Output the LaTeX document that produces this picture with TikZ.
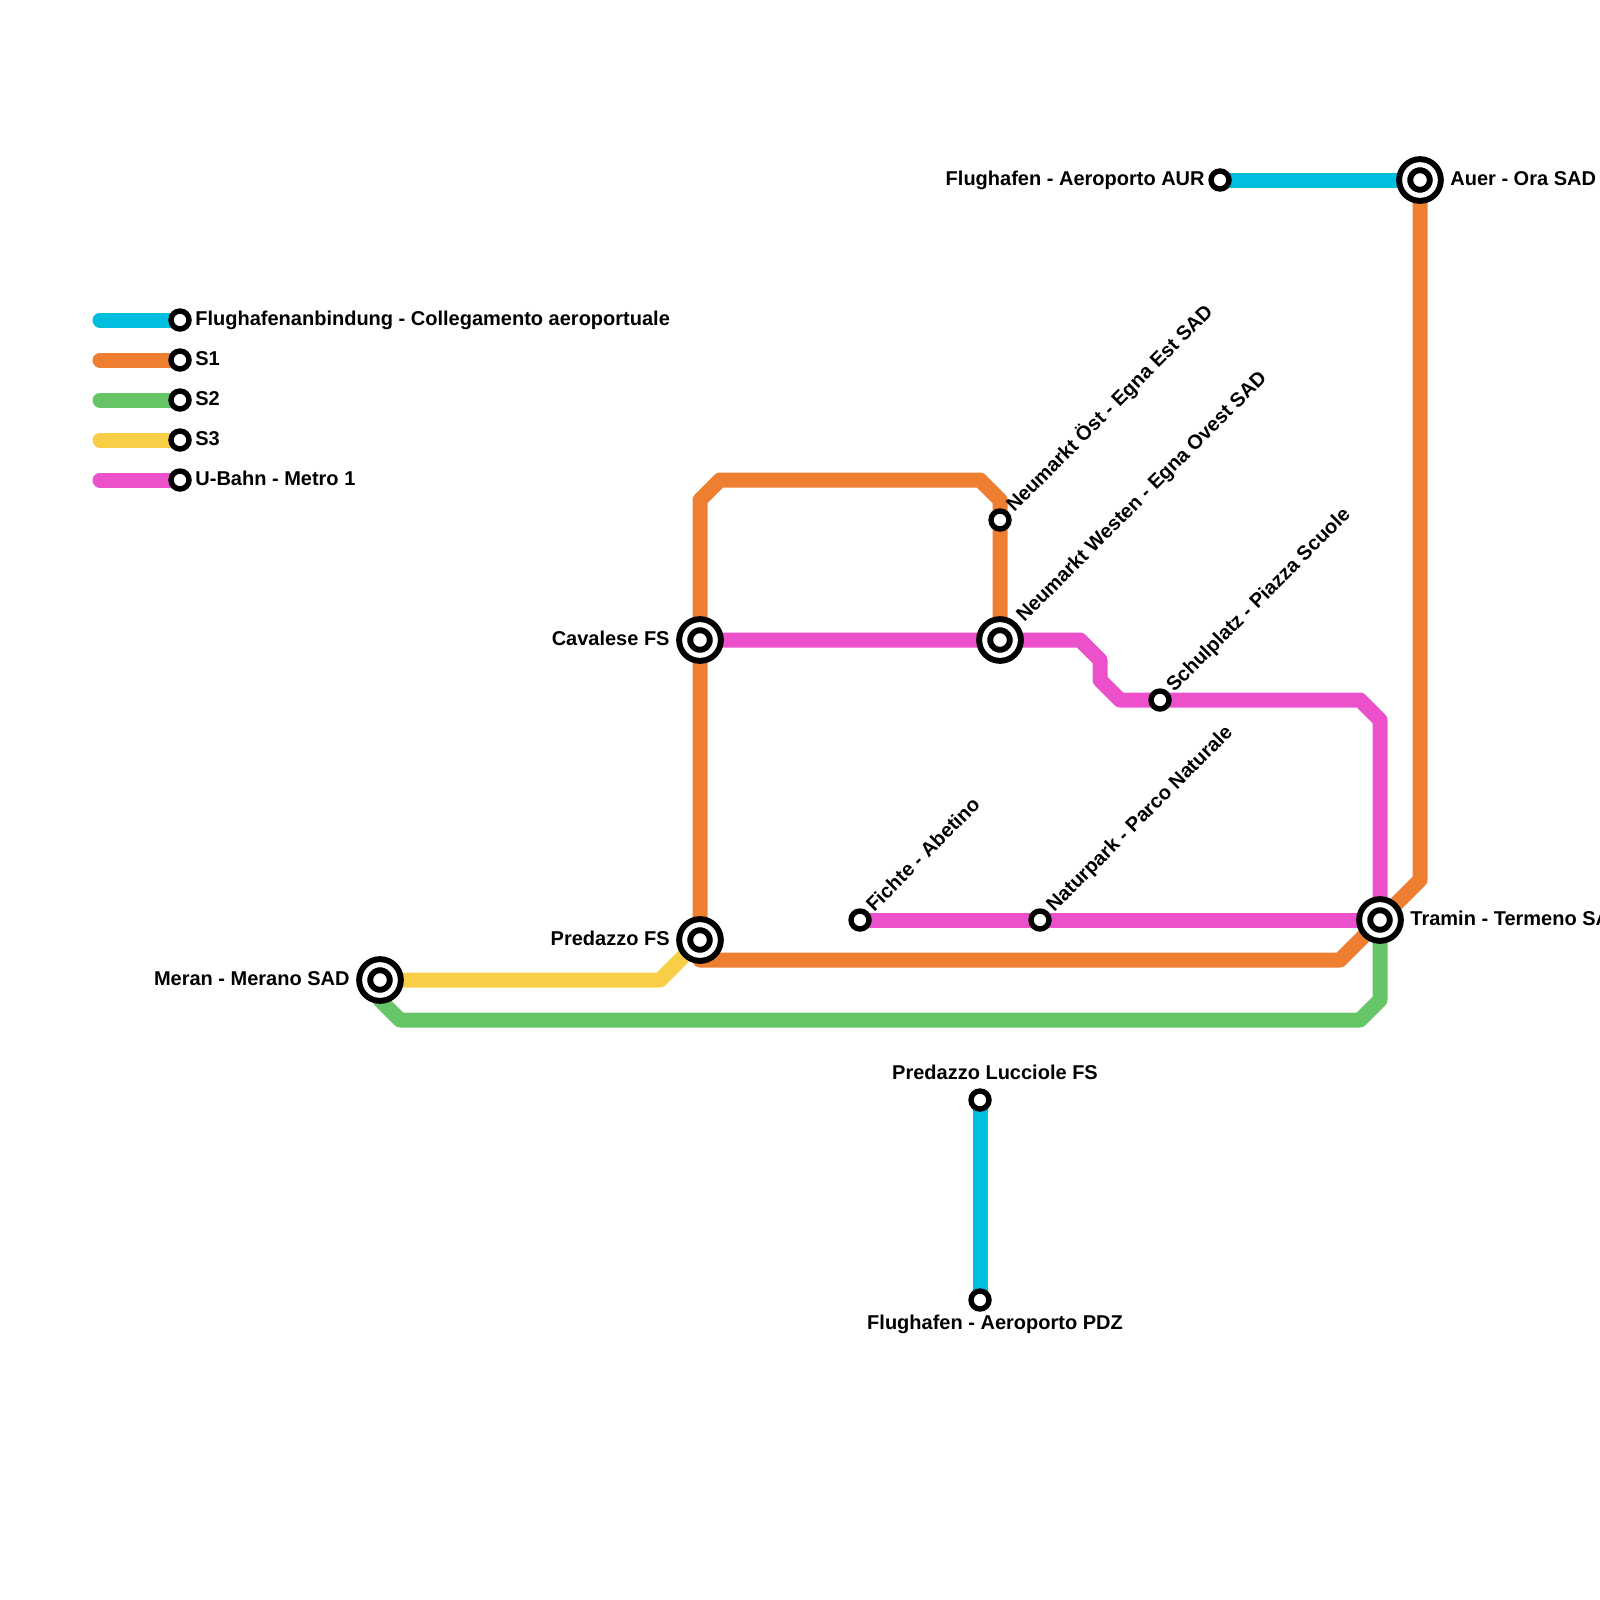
\documentclass[tikz,border=0pt]{standalone}
\usepackage{fontspec}
\setmainfont{Liberation Sans}
\usetikzlibrary{backgrounds}
\definecolor{airline}{RGB}{0,190,222}
\definecolor{sone}{RGB}{238,126,48}
\definecolor{stwo}{RGB}{102,197,102}
\definecolor{sthree}{RGB}{249,206,71}
\definecolor{metro}{RGB}{236,80,203}
\begin{document}
\begin{tikzpicture}[
  x=0.5pt, y=-0.5pt,
  font=\fontsize{10}{12}\selectfont\bfseries,
  stop/.style={draw, circle, fill=white, line width=2.7pt, minimum size=9pt, inner sep=0pt, outer sep=0pt},
  hub/.style={draw, circle, fill=white, line width=3pt, double=white, double distance=2.5pt, minimum size=15.3pt, inner sep=0pt, outer sep=0pt},
  rail/.style={line width=7.5pt, line cap=round, line join=round},
  lab/.style={inner sep=0pt},
  tilt/.style={inner sep=0pt, anchor=base west, rotate=45}
]
\useasboundingbox (0,0) rectangle (1600,1600);

% legend
\foreach \col/\ypos/\name/\txt in {airline/320/la/Flughafenanbindung - Collegamento aeroportuale,
    sone/360/lb/S1, stwo/400/lc/S2, sthree/440/ld/S3, metro/480/le/U-Bahn - Metro 1} {
  \node[stop] (\name) at (180,\ypos) {};
  \coordinate (\name s) at (100,\ypos);
  \node[lab, anchor=base west] (\name t) at (195,\ypos+5.5) {\txt};
  \begin{scope}[on background layer]
    \draw[rail, \col] (\name s) -- (\name.center);
  \end{scope}
}

% stations
\node[hub]  (auer)   at (1420,180)  {};
\node[stop] (aur)    at (1220,180)  {};
\node[hub]  (tramin) at (1380,920)  {};
\node[hub]  (caval)  at (700,640)   {};
\node[hub]  (pred)   at (700,940)   {};
\node[hub]  (meran)  at (380,980)   {};
\node[stop] (nmost)  at (1000,520)  {};
\node[hub]  (nmwest) at (1000,640)  {};
\node[stop] (schul)  at (1160,700)  {};
\node[stop] (fichte) at (860,920)   {};
\node[stop] (natur)  at (1040,920)  {};
\node[stop] (lucc)   at (980,1100)  {};
\node[stop] (pdz)    at (980,1300)  {};

% station names
\node[lab, anchor=base west] (auert)   at (1450,185.5) {Auer - Ora SAD};
\node[lab, anchor=base west] (tramint) at (1410,925.5) {Tramin - Termeno SAD};
\node[lab, anchor=base east] (aurt)    at (1205,185.5) {Flughafen - Aeroporto AUR};
\node[lab, anchor=base east] (cavalt)  at (670,645.5)  {Cavalese FS};
\node[lab, anchor=base east] (predt)   at (670,945.5)  {Predazzo FS};
\node[lab, anchor=base east] (merant)  at (350,985.5)  {Meran - Merano SAD};
\node[lab, anchor=base] (lucct) at (995,1079.5) {Predazzo Lucciole FS};
\node[lab, anchor=base] (pdzt)  at (995,1329.5) {Flughafen - Aeroporto PDZ};
\node[tilt] (nmostt)  at (1014,513) {Neumarkt Öst - Egna Est SAD};
\node[tilt] (nmwestt) at (1024,623) {Neumarkt Westen - Egna Ovest SAD};
\node[tilt] (schult)  at (1174,693) {Schulplatz - Piazza Scuole};
\node[tilt] (fichtet) at (874,913)  {Fichte - Abetino};
\node[tilt] (naturt)  at (1054,913) {Naturpark - Parco Naturale};

% bends
\coordinate (o1) at (1420,880);
\coordinate (o2) at (1340,960);
\coordinate (o3) at (700,960);
\coordinate (o4) at (700,500);
\coordinate (o5) at (720,480);
\coordinate (o6) at (980,480);
\coordinate (o7) at (1000,500);
\coordinate (g1) at (380,1000);
\coordinate (g2) at (400,1020);
\coordinate (g3) at (1360,1020);
\coordinate (g4) at (1380,1000);
\coordinate (y1) at (660,980);
\coordinate (m1) at (1080,640);
\coordinate (m2) at (1100,660);
\coordinate (m3) at (1100,680);
\coordinate (m4) at (1120,700);
\coordinate (m5) at (1360,700);
\coordinate (m6) at (1380,720);

\begin{scope}[on background layer]
  \draw[rail, airline] (aur.center) -- (auer.center);
  \draw[rail, airline] (lucc.center) -- (pdz.center);
  \draw[rail, sone] (auer.center) -- (o1) -- (o2) -- (o3) -- (pred.center) -- (caval.center) -- (o4) -- (o5) -- (o6) -- (o7) -- (nmost.center) -- (nmwest.center);
  \draw[rail, stwo] (meran.center) -- (g1) -- (g2) -- (g3) -- (g4) -- (tramin.center);
  \draw[rail, sthree] (meran.center) -- (y1) -- (pred.center);
  \draw[rail, metro] (caval.center) -- (nmwest.center) -- (m1) -- (m2) -- (m3) -- (m4) -- (schul.center) -- (m5) -- (m6) -- (tramin.center);
  \draw[rail, metro] (fichte.center) -- (natur.center) -- (tramin.center);
\end{scope}
\end{tikzpicture}
\end{document}
